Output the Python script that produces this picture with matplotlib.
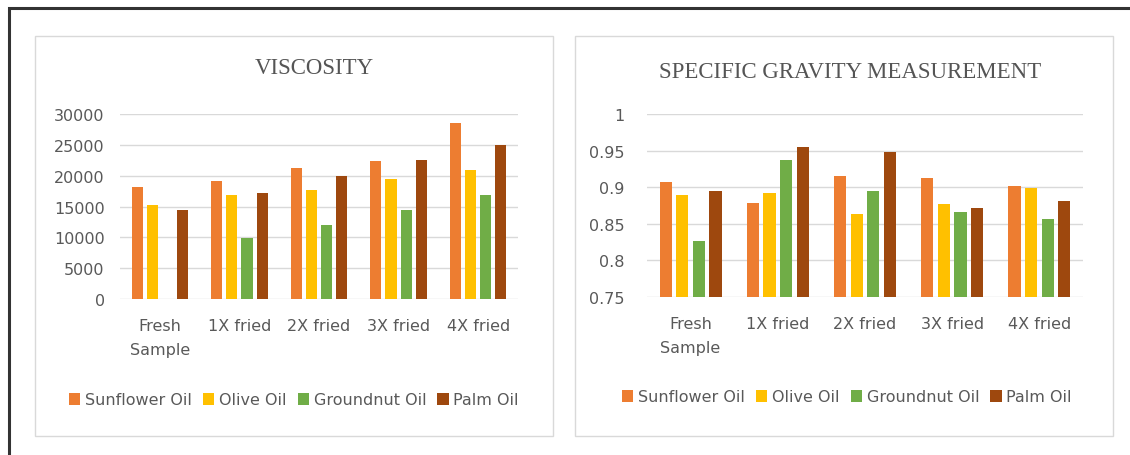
import matplotlib.pyplot as plt
import numpy as np
from matplotlib.patches import Rectangle

# Data
categories = ['Fresh\nSample', '1X fried', '2X fried', '3X fried', '4X fried']
oils = ['Sunflower Oil', 'Olive Oil', 'Groundnut Oil', 'Palm Oil']
colors = ['#ED7D31', '#FFC000', '#70AD47', '#9E480E']

viscosity_sunflower = [18200, 19200, 21200, 22300, 28500]
viscosity_olive = [15200, 16800, 17700, 19500, 21000]
viscosity_groundnut = [0, 9900, 12000, 14400, 16800]
viscosity_palm = [14400, 17200, 19900, 22500, 25000]

sg_sunflower = [0.907, 0.878, 0.915, 0.913, 0.901]
sg_olive = [0.890, 0.892, 0.863, 0.877, 0.899]
sg_groundnut = [0.826, 0.937, 0.895, 0.866, 0.857]
sg_palm = [0.895, 0.955, 0.948, 0.872, 0.881]

W, H = 1130, 456
fig = plt.figure(figsize=(W / 100, H / 100), dpi=100)
fig.patch.set_facecolor('white')


def px(x0, y0, x1, y1):
    # pixel box (top-left origin) -> figure fraction rect
    return [x0 / W, 1 - y1 / H, (x1 - x0) / W, (y1 - y0) / H]


# outer frame and chart panels
fig.add_artist(Rectangle((9 / W, -0.05), 1.1, 1 - 9 / H + 0.05, transform=fig.transFigure,
                         fill=False, edgecolor='#333333', linewidth=2.2))
for box in [(35, 37, 553, 437), (575, 37, 1113, 437)]:
    r = px(*box)
    fig.add_artist(Rectangle((r[0], r[1]), r[2], r[3], transform=fig.transFigure,
                             fill=False, edgecolor='#d9d9d9', linewidth=1.0))

tick_color = '#595959'
width = 0.14
step = 0.19
x = np.arange(len(categories))


def draw(ax, series, ylim, yticks, yticklabels, ypad, title, title_xy, legend_xy):
    for i, (vals, c, name) in enumerate(zip(series, colors, oils)):
        ax.bar(x + (i - 1.5) * step, vals, width=width, color=c, label=name, zorder=3)
    ax.set_xlim(-0.5, len(categories) - 0.5)
    ax.set_ylim(*ylim)
    ax.set_yticks(yticks)
    ax.set_yticklabels(yticklabels)
    ax.set_xticks(x)
    ax.set_xticklabels(categories, linespacing=1.75)
    ax.grid(axis='y', color='#d9d9d9', linewidth=1.0, zorder=0)
    for s in ax.spines.values():
        s.set_visible(False)
    ax.tick_params(length=0, colors=tick_color, labelsize=11.5)
    ax.tick_params(axis='y', pad=ypad)
    ax.tick_params(axis='x', pad=14)
    fig.text(title_xy[0] / W, 1 - title_xy[1] / H, title, ha='center', va='center',
             fontfamily='Liberation Serif', fontsize=16.5, color='#555555')
    ax.legend(loc='center', bbox_to_anchor=(legend_xy[0] / W, 1 - legend_xy[1] / H),
              bbox_transform=fig.transFigure, ncol=4, frameon=False,
              fontsize=11.5, labelcolor=tick_color, handlelength=0.7, handleheight=0.7,
              handletextpad=0.3, columnspacing=0.7)


ax1 = fig.add_axes(px(120, 115, 518, 300))
draw(ax1, [viscosity_sunflower, viscosity_olive, viscosity_groundnut, viscosity_palm],
     (0, 30000), range(0, 30001, 5000), [str(v) for v in range(0, 30001, 5000)], 11,
     'VISCOSITY', (314, 68), (294, 401))

ax2 = fig.add_axes(px(647, 115, 1083, 298))
sg_ticks = [0.75, 0.8, 0.85, 0.9, 0.95, 1.0]
draw(ax2, [sg_sunflower, sg_olive, sg_groundnut, sg_palm],
     (0.75, 1.0), sg_ticks, ['0.75', '0.8', '0.85', '0.9', '0.95', '1'], 16,
     'SPECIFIC GRAVITY MEASUREMENT', (850, 73), (847, 398))

plt.savefig('out.png', dpi=100)
